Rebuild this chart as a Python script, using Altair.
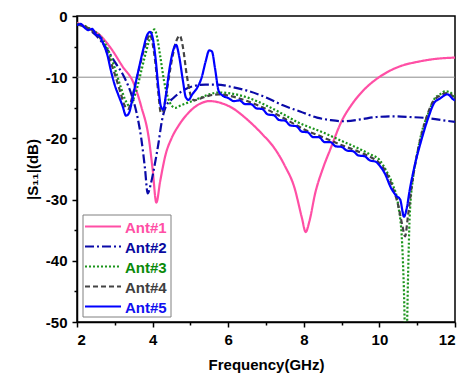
import altair as alt
import pandas as pd

series = ["Ant#1", "Ant#2", "Ant#3", "Ant#4", "Ant#5"]
line_colors = ["#FF4FA5", "#0A0AA8", "#1A941A", "#444444", "#0000FF"]
label_colors = ["#FF4FA5", "#0A0AA0", "#0A8A0A", "#404040", "#1010F0"]
dashes = [[1, 0], [9, 3, 2, 3], [2, 2], [5, 3], [1, 0]]

x_ticks = [2, 3, 4, 5, 6, 7, 8, 9, 10, 11, 12]
y_ticks = [-50, -45, -40, -35, -30, -25, -20, -15, -10, -5, 0]

f1 = [2.0, 2.3, 2.6, 2.9, 3.2, 3.5, 3.7, 3.9, 4.0, 4.1, 4.2, 4.35, 4.5, 4.7, 5.0,
      5.3, 5.5, 5.8, 6.1, 6.5, 6.9, 7.2, 7.5, 7.75, 7.95, 8.05, 8.15, 8.3, 8.5, 8.7,
      9.0, 9.3, 9.6, 9.9, 10.2, 10.6, 11.0, 11.5, 12.0]
s1 = [-1.1, -2.0, -3.1, -5.3, -8.2, -11.0, -14.8, -20.0, -25.0, -30.5, -27.0, -22.5, -20.0, -17.8, -15.5,
      -14.2, -13.9, -14.2, -15.0, -16.9, -19.3, -21.4, -24.5, -28.0, -33.0, -35.3, -33.5, -29.0, -25.0, -21.8,
      -17.2, -14.2, -12.0, -10.4, -9.2, -8.1, -7.5, -7.0, -6.8]

f2 = [2.0, 2.2, 2.4, 2.6, 2.8, 3.0, 3.25, 3.45, 3.6, 3.7, 3.8, 3.87, 3.95, 4.05, 4.15,
      4.25, 4.35, 4.55, 4.8, 5.0, 5.4, 5.7, 6.1, 6.5, 7.0, 7.45, 7.9, 8.35, 8.7, 9.04,
      9.5, 9.93, 10.4, 10.8, 11.3, 11.87, 12.0]
s2 = [-1.3, -1.8, -2.6, -3.8, -5.5, -7.5, -10.0, -13.0, -16.5, -20.0, -25.0, -29.0, -27.5, -24.5, -21.0,
      -17.0, -14.8, -13.4, -12.2, -11.6, -11.2, -11.2, -11.6, -12.2, -13.3, -14.6, -15.6, -16.6, -17.0, -17.2,
      -16.9, -16.5, -16.4, -16.5, -16.7, -17.2, -17.3]

f3 = [2.0, 2.2, 2.4, 2.6, 2.8, 3.0, 3.15, 3.3, 3.4, 3.5, 3.6, 3.7, 3.8, 3.9, 4.0,
      4.05, 4.12, 4.2, 4.3, 4.4, 4.5, 4.6, 4.75, 5.0, 5.25, 5.5, 5.75, 6.0, 6.5, 7.0,
      7.5, 7.82, 8.0, 8.5, 8.96, 9.5, 9.75, 10.0, 10.2, 10.35, 10.5, 10.6, 10.65, 10.68, 10.72,
      10.76, 10.8, 10.9, 11.0, 11.1, 11.3, 11.45, 11.6, 11.75, 11.85, 12.0]
s3 = [-1.3, -1.6, -2.3, -3.2, -5.2, -8.5, -11.5, -14.0, -14.8, -13.5, -11.5, -9.0, -6.5, -4.2, -2.5,
      -2.2, -3.5, -6.5, -10.5, -13.2, -14.6, -15.0, -14.6, -14.0, -13.4, -12.8, -12.5, -12.6, -13.3, -14.6,
      -16.2, -17.3, -17.8, -19.0, -20.3, -21.8, -22.6, -23.5, -25.5, -27.5, -31.0, -37.0, -45.0, -52.0, -52.0,
      -42.0, -33.0, -26.0, -22.5, -19.5, -15.8, -13.6, -12.8, -12.3, -12.4, -13.3]

f4 = [2.0, 2.2, 2.4, 2.6, 2.8, 3.0, 3.15, 3.25, 3.35, 3.45, 3.55, 3.65, 3.75, 3.85, 3.93,
      4.0, 4.08, 4.15, 4.22, 4.28, 4.38, 4.5, 4.62, 4.72, 4.8, 4.9, 5.0, 5.1, 5.25, 5.5,
      5.75, 6.0, 6.5, 7.0, 7.5, 7.82, 8.0, 8.5, 8.96, 9.5, 9.75, 10.0, 10.2, 10.35, 10.5,
      10.6, 10.68, 10.75, 10.85, 11.0, 11.2, 11.4, 11.6, 11.8, 12.0]
s4 = [-1.4, -1.7, -2.4, -3.5, -6.0, -9.5, -12.5, -14.5, -15.2, -13.5, -11.0, -8.5, -6.0, -4.0, -3.0,
      -4.5, -8.0, -12.5, -15.8, -15.5, -12.0, -7.5, -4.2, -3.2, -5.0, -9.5, -12.8, -13.8, -13.5, -13.0,
      -12.8, -13.0, -13.9, -15.2, -16.8, -17.9, -18.5, -19.8, -21.0, -22.3, -23.0, -24.0, -25.8, -28.0, -31.0,
      -34.0, -36.0, -33.0, -28.0, -22.5, -17.5, -14.2, -13.0, -12.6, -13.5]

f5 = [2.0, 2.1, 2.2, 2.3, 2.4, 2.5, 2.6, 2.7, 2.8, 2.9,
      3.0, 3.1, 3.2, 3.3, 3.38, 3.45, 3.55, 3.65, 3.75, 3.85,
      3.93, 4.0, 4.08, 4.15, 4.22, 4.28, 4.35, 4.45, 4.55, 4.62,
      4.7, 4.8, 4.88, 4.95, 5.05, 5.2, 5.3, 5.4, 5.5, 5.57,
      5.65, 5.75, 5.85, 6.0, 6.15, 6.3, 6.45, 6.6, 6.75, 6.9,
      7.05, 7.2, 7.35, 7.5, 7.65, 7.8, 7.95, 8.1, 8.25, 8.4,
      8.55, 8.7, 8.85, 9.0, 9.15, 9.3, 9.45, 9.6, 9.75, 9.9,
      10.0, 10.15, 10.3, 10.45, 10.55, 10.65, 10.72, 10.8, 10.95, 11.1,
      11.3, 11.45, 11.6, 11.8, 11.95, 12.0]
s5 = [-1.5, -1.3, -1.9, -2.3, -2.1, -3.0, -3.3, -4.6, -6.3, -9.0,
      -11.3, -13.0, -14.6, -16.3, -15.8, -14.0, -11.0, -8.2, -5.5, -3.2,
      -2.6, -3.5, -7.0, -11.5, -14.8, -15.3, -13.0, -8.5, -5.5, -4.7,
      -6.5, -10.5, -13.3, -13.7, -12.8, -11.5, -10.0, -7.5, -5.6, -5.8,
      -8.5, -12.3, -13.0, -13.4, -13.9, -13.8, -14.4, -14.4, -15.1, -15.2,
      -16.1, -16.2, -17.0, -17.1, -17.9, -18.0, -18.9, -19.0, -19.8, -19.8,
      -20.6, -20.6, -21.3, -21.4, -22.0, -22.1, -22.8, -22.9, -23.6, -23.8,
      -24.4, -25.8, -28.0, -29.4, -30.0, -32.8, -31.5, -28.5, -24.0, -20.5,
      -16.5, -14.2, -13.5, -12.8, -13.6, -13.8]

ref_level = [-10]

rows = []
for name, fs, ss in zip(series, [f1, f2, f3, f4, f5], [s1, s2, s3, s4, s5]):
    for i, (f, s) in enumerate(zip(fs, ss)):
        rows.append({"series": name, "freq": f, "s11": s, "ord": i})
df = pd.DataFrame(rows)

FONT = "Liberation Sans"

x_enc = alt.X(
    "freq:Q",
    scale=alt.Scale(domain=[2, 12], nice=False, zero=False),
    axis=alt.Axis(
        values=x_ticks,
        labelExpr="datum.value % 2 == 0 ? '' + datum.value : ''",
        tickSize={"condition": {"test": "datum.value % 2 != 0", "value": 3}, "value": 5},
        title="Frequency(GHz)",
        labelPadding=5,
        titlePadding=10,
    ),
)
y_enc = alt.Y(
    "s11:Q",
    scale=alt.Scale(domain=[-50, 0], nice=False, zero=False),
    axis=alt.Axis(
        values=y_ticks,
        labelExpr="datum.value % 10 == 0 ? '' + datum.value : ''",
        tickSize={"condition": {"test": "datum.value % 10 != 0", "value": 3}, "value": 5},
        title="|S₁₁|(dB)",
        labelPadding=5,
        titlePadding=5,
    ),
)

grid = alt.Chart(pd.DataFrame({"s11": ref_level})).mark_rule(
    color="#8C8C8C", strokeWidth=1
).encode(y=y_enc)

lines = alt.Chart(df).mark_line(clip=True, strokeWidth=2.2, interpolate="monotone").encode(
    x=x_enc,
    y=y_enc,
    color=alt.Color("series:N", scale=alt.Scale(domain=series, range=line_colors), legend=None),
    strokeDash=alt.StrokeDash("series:N", scale=alt.Scale(domain=series, range=dashes), legend=None),
    order="ord:Q",
)

layers = [grid, lines]

one = pd.DataFrame({"a": [0]})
legend_box = alt.Chart(one).mark_rect(fill="white", stroke="#808080", strokeWidth=1).encode(
    x=alt.value(6), x2=alt.value(94), y=alt.value(199), y2=alt.value(301)
)
layers.append(legend_box)
for i, name in enumerate(series):
    yy = 210.5 + 20 * i
    layers.append(
        alt.Chart(one).mark_rule(color=line_colors[i], strokeDash=dashes[i], strokeWidth=2).encode(
            x=alt.value(8), x2=alt.value(44), y=alt.value(yy)
        )
    )
    layers.append(
        alt.Chart(one).mark_text(
            align="left", baseline="middle", font=FONT, fontSize=15, fontWeight="bold",
            color=label_colors[i]
        ).encode(x=alt.value(48), y=alt.value(yy + 1), text=alt.value(name))
    )

chart = alt.layer(*layers).properties(
    width=378,
    height=306,
    autosize=alt.AutoSizeParams(type="none"),
    padding={"left": 77, "top": 16, "right": 9, "bottom": 55},
    background="white",
).configure_view(
    stroke="black", strokeWidth=1.5
).configure_axis(
    grid=False,
    domainColor="black",
    domainWidth=1.5,
    tickColor="black",
    tickWidth=1.5,
    labelFont=FONT,
    labelFontSize=15,
    labelFontWeight="bold",
    labelColor="black",
    titleFont=FONT,
    titleFontSize=15,
    titleFontWeight="bold",
    titleColor="black",
)

chart.save("out.html", embed_options={"renderer": "svg", "actions": False})
